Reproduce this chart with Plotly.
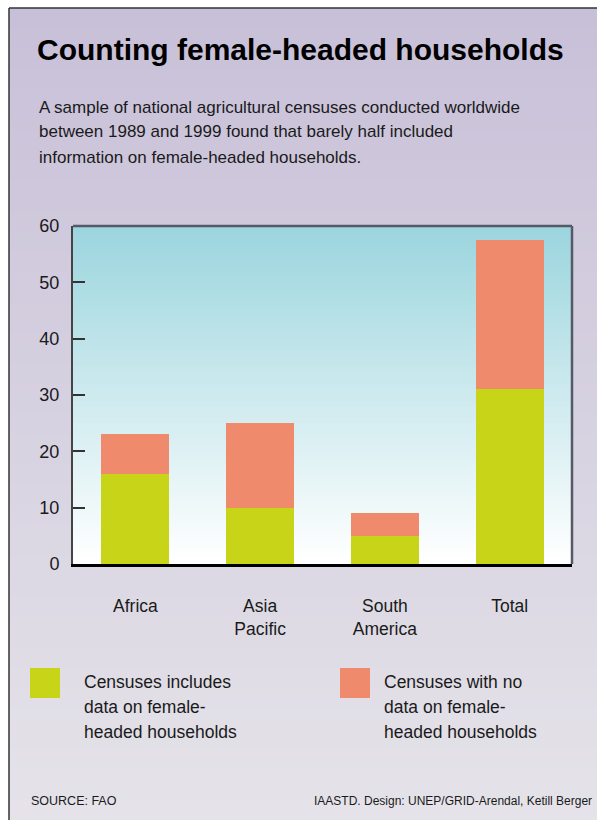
import plotly.graph_objects as go

# ---- data ----
regions = ["Africa", "Asia<br>Pacific", "South<br>America", "Total"]
with_data = [16, 10, 5, 31]
no_data = [7, 15, 4, 26.5]
series_names = ["Censuses includes data on female-headed households",
                "Censuses with no data on female-headed households"]
y_ticks = [0, 10, 20, 30, 40, 50, 60]

title_text = "Counting female-headed households"
subtitle_lines = ["A sample of national agricultural censuses conducted worldwide",
                  "between 1989 and 1999 found that barely half included",
                  "information on female-headed households."]
legend1_lines = ["Censuses includes", "data on female-", "headed households"]
legend2_lines = ["Censuses with no", "data on female-", "headed households"]
source_left = "SOURCE: FAO"
source_right = "IAASTD. Design: UNEP/GRID-Arendal, Ketill Berger"

# ---- style ----
GREEN = "#c8d417"
SALMON = "#f08a6c"
FONT = "Liberation Sans, Arial, Helvetica, sans-serif"
W, H = 597, 820
L, R, T, B = 73, 572, 226, 564


def px(x):
    return (x - L) / (R - L)


def py(y):
    return (B - y) / (B - T)


def lerp(c1, c2, t):
    return "rgb(%d,%d,%d)" % tuple(round(a + (b - a) * t) for a, b in zip(c1, c2))


fig = go.Figure()
fig.add_trace(go.Bar(x=regions, y=with_data, name=series_names[0],
                     marker=dict(color=GREEN, line=dict(width=0)), width=0.545))
fig.add_trace(go.Bar(x=regions, y=no_data, name=series_names[1],
                     marker=dict(color=SALMON, line=dict(width=0)), width=0.545))

shapes = []
# panel gradient (lavender -> light grey)
n = 80
top_c, bot_c = (200, 192, 216), (229, 227, 233)
y0p, y1p = 8, 820
for i in range(n):
    a = y0p + (y1p - y0p) * i / n
    b = y0p + (y1p - y0p) * (i + 1) / n + 1
    shapes.append(dict(type="rect", xref="paper", yref="paper", layer="below",
                       x0=px(9), x1=px(W + 2), y0=py(a), y1=py(b),
                       fillcolor=lerp(top_c, bot_c, i / (n - 1)), line=dict(width=0)))
# plot-area gradient (teal -> white)
m = 60
ptop, pbot = (156, 213, 222), (255, 255, 255)
for i in range(m):
    a = 1 - i / m
    b = 1 - (i + 1) / m - 0.003
    shapes.append(dict(type="rect", xref="paper", yref="paper", layer="below",
                       x0=0, x1=1, y0=max(b, 0), y1=a,
                       fillcolor=lerp(ptop, pbot, i / (m - 1)), line=dict(width=0)))
# outer frame
shapes.append(dict(type="line", xref="paper", yref="paper", layer="above",
                   x0=px(9), x1=px(W + 2), y0=py(8), y1=py(8),
                   line=dict(color="#333333", width=1.5)))
shapes.append(dict(type="line", xref="paper", yref="paper", layer="above",
                   x0=px(9), x1=px(9), y0=py(8), y1=py(H + 2),
                   line=dict(color="#333333", width=1.5)))
# plot frame top / right
shapes.append(dict(type="line", xref="paper", yref="paper", layer="above",
                   x0=0, x1=1, y0=1, y1=1, line=dict(color="#555a66", width=2.5)))
shapes.append(dict(type="line", xref="paper", yref="paper", layer="above",
                   x0=1, x1=1, y0=0, y1=1, line=dict(color="#555a66", width=2.5)))
# legend swatches
shapes.append(dict(type="rect", xref="paper", yref="paper",
                   x0=px(30), x1=px(60), y0=py(698), y1=py(668),
                   fillcolor=GREEN, line=dict(width=0)))
shapes.append(dict(type="rect", xref="paper", yref="paper",
                   x0=px(340), x1=px(370), y0=py(698), y1=py(668),
                   fillcolor=SALMON, line=dict(width=0)))

ann = []
ann.append(dict(text="<b>%s</b>" % title_text, x=px(35), y=py(49), xref="paper", yref="paper",
                xanchor="left", yanchor="middle", showarrow=False,
                font=dict(family=FONT, size=30, color="#000000")))
for i, line in enumerate(subtitle_lines):
    ann.append(dict(text=line, x=px(37), y=py(107 + 25 * i), xref="paper", yref="paper",
                    xanchor="left", yanchor="middle", showarrow=False,
                    font=dict(family=FONT, size=17, color="#1a1a1a")))
for i, line in enumerate(legend1_lines):
    ann.append(dict(text=line, x=px(82), y=py(682 + 25 * i), xref="paper", yref="paper",
                    xanchor="left", yanchor="middle", showarrow=False,
                    font=dict(family=FONT, size=17.5, color="#1a1a1a")))
for i, line in enumerate(legend2_lines):
    ann.append(dict(text=line, x=px(382), y=py(682 + 25 * i), xref="paper", yref="paper",
                    xanchor="left", yanchor="middle", showarrow=False,
                    font=dict(family=FONT, size=17.5, color="#1a1a1a")))
ann.append(dict(text=source_left, x=px(29), y=py(801), xref="paper", yref="paper",
                xanchor="left", yanchor="middle", showarrow=False,
                font=dict(family=FONT, size=12.5, color="#1a1a1a")))
ann.append(dict(text=source_right, x=px(594), y=py(801), xref="paper", yref="paper",
                xanchor="right", yanchor="middle", showarrow=False,
                font=dict(family=FONT, size=12, color="#1a1a1a")))

fig.update_layout(
    width=W, height=H,
    margin=dict(l=L, r=W - R, t=T, b=H - B, pad=0),
    paper_bgcolor="white", plot_bgcolor="rgba(0,0,0,0)",
    barmode="stack", bargap=0.45, showlegend=False,
    shapes=shapes, annotations=ann,
    font=dict(family=FONT, color="#1a1a1a"),
)
fig.update_xaxes(range=[-0.5, 3.5], showline=True, linecolor="#000000", linewidth=3,
                 ticks="", showgrid=False, zeroline=False, layer="below traces",
                 tickfont=dict(family=FONT, size=17.5, color="#1a1a1a"),
                 ticklabelstandoff=24)
fig.update_yaxes(range=[0, 60], tickvals=y_ticks, ticks="inside", ticklen=12,
                 tickwidth=1.5, tickcolor="#333333", showline=True, linecolor="#444444",
                 linewidth=2, showgrid=False, zeroline=False,
                 tickfont=dict(family=FONT, size=18, color="#1a1a1a"),
                 ticklabelstandoff=8)

fig.write_html("out.html", config={"displayModeBar": False},
               post_script="document.body.style.margin='0';"
                           "document.body.style.overflow='hidden';")
